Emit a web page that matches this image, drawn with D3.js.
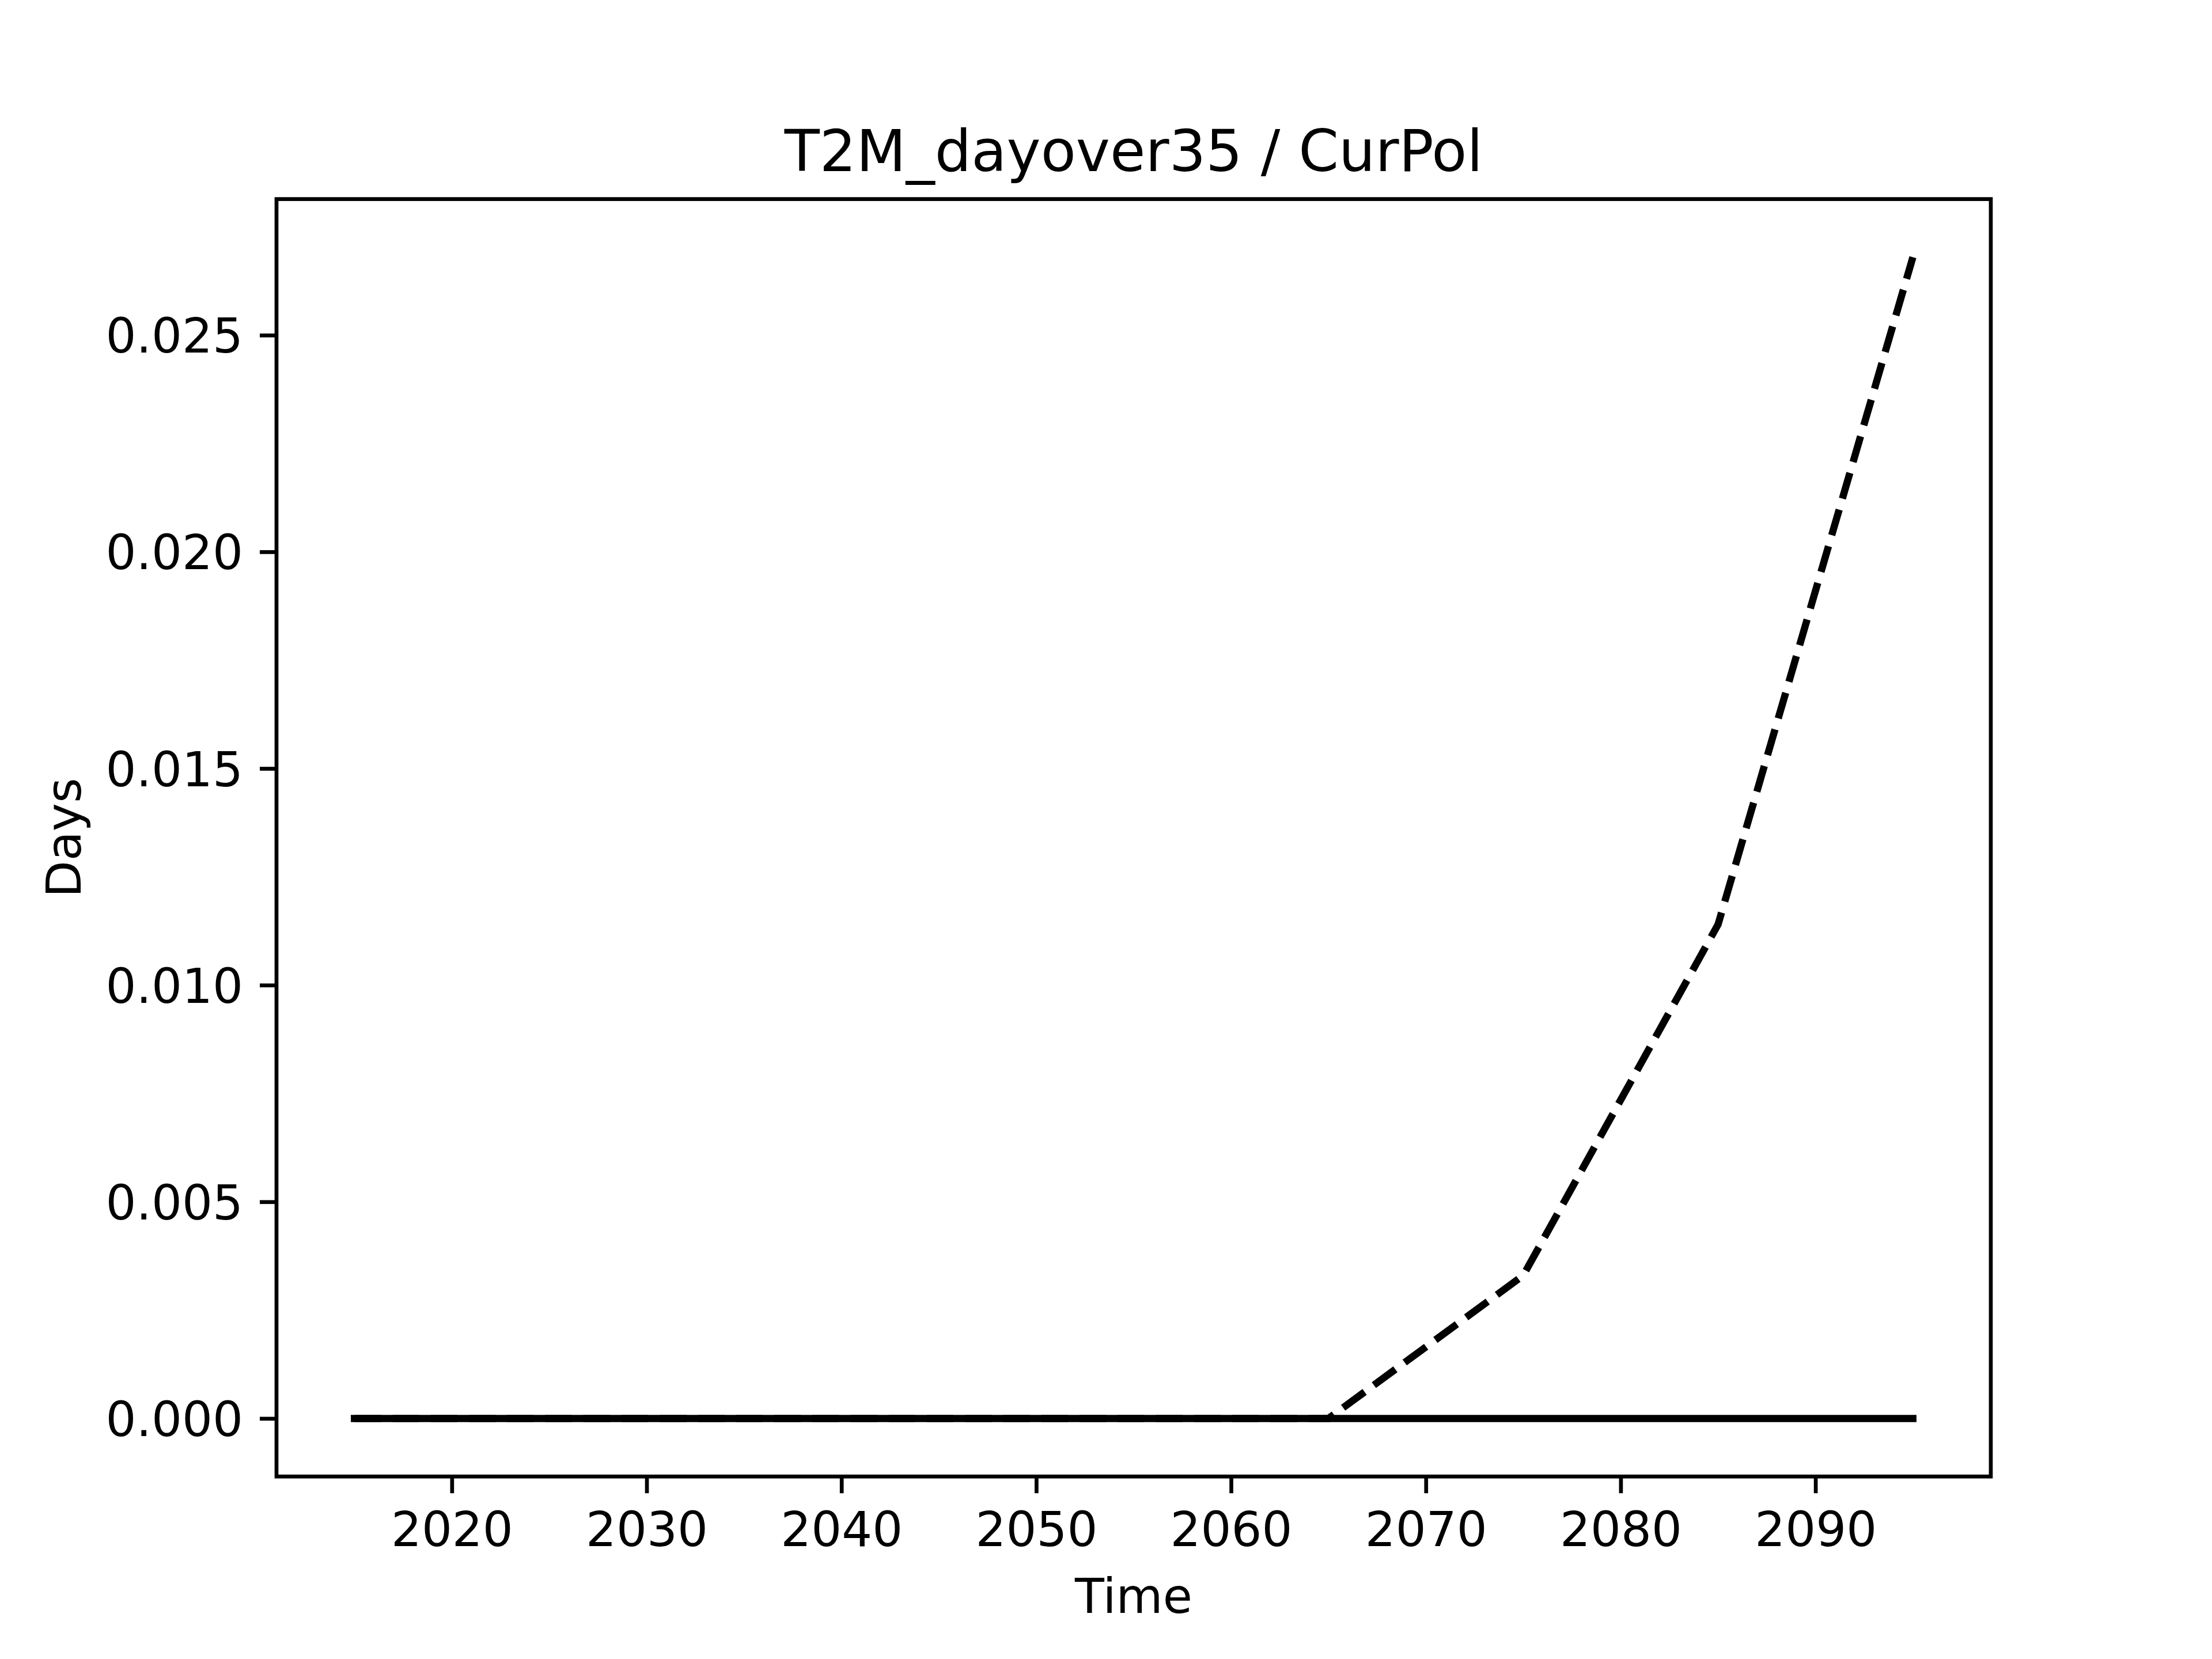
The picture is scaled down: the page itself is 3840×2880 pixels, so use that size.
<!DOCTYPE html>
<html>
<head>
<meta charset="utf-8">
<script src="https://cdn.jsdelivr.net/npm/d3@7"></script>
<style>
  body { margin: 0; background: #fff; }
  svg text { font-family: "DejaVu Sans", sans-serif; fill: #000; }
</style>
</head>
<body>
<svg id="chart" width="3840" height="2880"></svg>
<script>
// data
const years = [2015, 2025, 2035, 2045, 2055, 2065, 2075, 2085, 2095];
const solidValues = [0, 0, 0, 0, 0, 0, 0, 0, 0];
const dashedValues = [0, 0, 0, 0, 0, 0, 0.0033, 0.0114, 0.0268];
const xTicks = [2020, 2030, 2040, 2050, 2060, 2070, 2080, 2090];
const yTicks = [0, 0.005, 0.010, 0.015, 0.020, 0.025];

const WIDTH = 3840;
const HEIGHT = 2880;
const LEFT = 480, RIGHT = 3456, TOP = 345.6, BOTTOM = 2563.2;

const FONT = 83.3;
const LW = 12.5;

const svg = d3.select('#chart');
svg.append('rect').attr('width', WIDTH).attr('height', HEIGHT).attr('fill', '#fff');

// matplotlib style 5% margins
const xPad = (d3.max(years) - d3.min(years)) * 0.05;
const xScale = d3.scaleLinear([d3.min(years) - xPad, d3.max(years) + xPad], [LEFT, RIGHT]);
const yMax = d3.max(dashedValues);
const yPad = yMax * 0.05;
const yScale = d3.scaleLinear([-yPad, yMax + yPad], [BOTTOM, TOP]);

const line = (vals) => d3.line()
  .x((d, i) => xScale(years[i]))
  .y(d => yScale(d))(vals);

const plot = svg.append('g');

plot.append('path')
  .attr('d', line(dashedValues))
  .attr('fill', 'none')
  .attr('stroke', '#000')
  .attr('stroke-width', LW)
  .attr('stroke-dasharray', '46.25,20');

plot.append('path')
  .attr('d', line(solidValues))
  .attr('fill', 'none')
  .attr('stroke', '#000')
  .attr('stroke-width', LW)
  .attr('stroke-linecap', 'square');

// axes
const xAxis = d3.axisBottom(xScale).tickValues(xTicks).tickSize(29).tickPadding(29).tickFormat(d3.format('d'));
const yAxis = d3.axisLeft(yScale).tickValues(yTicks).tickSize(29).tickPadding(29).tickFormat(d3.format('.3f'));

const gx = svg.append('g').attr('transform', `translate(0,${BOTTOM})`).call(xAxis);
const gy = svg.append('g').attr('transform', `translate(${LEFT},0)`).call(yAxis);

[gx, gy].forEach(g => {
  g.select('.domain').remove();
  g.selectAll('.tick line').attr('stroke', '#000').attr('stroke-width', 6.7);
  g.selectAll('.tick text').attr('font-size', FONT).attr('font-family', '"DejaVu Sans", sans-serif');
});
gx.selectAll('.tick text').attr('dy', '0.76em');
gy.selectAll('.tick text').attr('dy', '0.36em');

// frame
svg.append('rect')
  .attr('x', LEFT).attr('y', TOP)
  .attr('width', RIGHT - LEFT).attr('height', BOTTOM - TOP)
  .attr('fill', 'none')
  .attr('stroke', '#000')
  .attr('stroke-width', 6.7);

// labels
svg.append('text')
  .attr('x', (LEFT + RIGHT) / 2).attr('y', 297)
  .attr('text-anchor', 'middle')
  .attr('font-size', 100)
  .text('T2M_dayover35 / CurPol');

svg.append('text')
  .attr('x', (LEFT + RIGHT) / 2).attr('y', 2800)
  .attr('text-anchor', 'middle')
  .attr('font-size', FONT)
  .text('Time');

svg.append('text')
  .attr('transform', `translate(140,${(TOP + BOTTOM) / 2}) rotate(-90)`)
  .attr('text-anchor', 'middle')
  .attr('font-size', FONT)
  .text('Days');
</script>
</body>
</html>
